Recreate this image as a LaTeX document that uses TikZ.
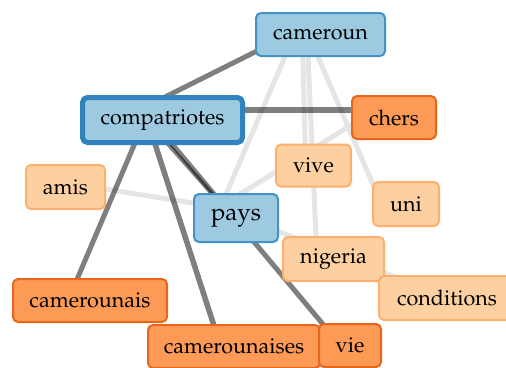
\documentclass[tikz,border=0pt]{standalone}
\usepackage[T1]{fontenc}
\usepackage{mathpazo}
\usetikzlibrary{calc,backgrounds}

\definecolor{hubfill}{HTML}{9ECAE1}
\definecolor{hubline}{HTML}{4292C6}
\definecolor{coreline}{HTML}{3182BD}
\definecolor{hotfill}{HTML}{FD9A56}
\definecolor{hotline}{HTML}{E8661C}
\definecolor{warmfill}{HTML}{FDD0A2}
\definecolor{warmline}{HTML}{FDB06E}

\begin{document}
\begin{tikzpicture}[
		x=1pt,y=-1pt,
		term/.style={rectangle,rounded corners=5pt,line width=2pt,inner sep=0pt,text=black,font=\fontsize{21.5}{24}\selectfont},
		hub/.style={term,draw=hubline,fill=hubfill},
		core/.style={hub,draw=coreline,line width=5pt},
		hot/.style={term,draw=hotline,fill=hotfill},
		warm/.style={term,draw=warmline,fill=warmfill},
		tie/.style={line width=5pt,draw=black,draw opacity=0.5},
		faint/.style={line width=5pt,draw=black!10}
		]
		\useasboundingbox (0,0) rectangle (506,367);
		
		% --- word boxes
		\node[hub,minimum width=129pt,minimum height=43pt] (cameroun) at (320.5,34.5) {cameroun};
		\node[core,minimum width=160pt,minimum height=45pt] (compatriotes) at (162.5,120) {compatriotes};
		\node[hot,minimum width=84pt,minimum height=43pt] (chers) at (394,117.5) {chers};
		\node[warm,minimum width=75pt,minimum height=42pt] (vive) at (313.5,165.5) {vive};
		\node[warm,minimum width=79pt,minimum height=44pt] (amis) at (65.5,187) {amis};
		\node[warm,minimum width=66pt,minimum height=44pt] (uni) at (406,204) {uni};
		\node[hub,minimum width=84pt,minimum height=48pt,font=\fontsize{24}{26}\selectfont] (pays) at (236,218) {pays};
		\node[warm,minimum width=101pt,minimum height=44pt] (nigeria) at (333.5,259) {nigeria};
		\node[warm,minimum width=136pt,minimum height=44pt] (conditions) at (447,298) {conditions};
		\node[hot,minimum width=154pt,minimum height=43pt] (camerounais) at (90,300.5) {camerounais};
		\node[hot,minimum width=172pt,minimum height=43pt] (camerounaises) at (234,346.5) {camerounaises};
		\node[hot,minimum width=62pt,minimum height=43pt] (vie) at (350,345.5) {vie};
		
		% --- links, kept under the boxes (weak ones first)
		\begin{scope}[on background layer]
			\draw[faint] ($(amis)+(14.5,-2)$) -- ($(pays)+(-16,-10.6)$);
			\draw[faint] ($(cameroun)+(-30.5,10.5)$) -- ($(pays)+(-14.6,-13)$);
			\draw[faint] ($(cameroun)+(-18,10.5)$) -- ($(vive)+(-8,-10.5)$);
			\draw[faint] ($(cameroun)+(-13,10.5)$) -- ($(nigeria)+(-17,-11)$);
			\draw[faint] ($(cameroun)+(-7.7,10.5)$) -- ($(uni)+(-28.4,-9)$);
			\draw[faint] ($(chers)+(-29,-1)$) -- ($(pays)+(-4,-19)$);
			\draw[faint] ($(pays)+(14,2.3)$) -- ($(conditions)+(-27,-11.3)$);
			
			\draw[tie] ($(cameroun)+(-50.5,10)$) -- ($(compatriotes)+(-2.5,-20.5)$);
			\draw[tie,line width=6.5pt] ($(compatriotes)+(60,-10)$) -- ($(chers)+(-20,-7.5)$);
			\draw[tie] ($(compatriotes)+(-22,10)$) -- ($(camerounais)+(-17.5,-10.5)$);
			\draw[tie,line width=5.5pt] ($(compatriotes)+(-12,10)$) -- ($(camerounaises)+(-17,-11.5)$);
			\draw[tie,line width=4pt] ($(compatriotes)+(-2.5,15)$) -- ($(pays)+(-14,-13)$);
			\draw[tie] ($(compatriotes)+(2,15)$) -- ($(vie)+(-18,-10.5)$);
		\end{scope}
		
	\end{tikzpicture}
\end{document}
